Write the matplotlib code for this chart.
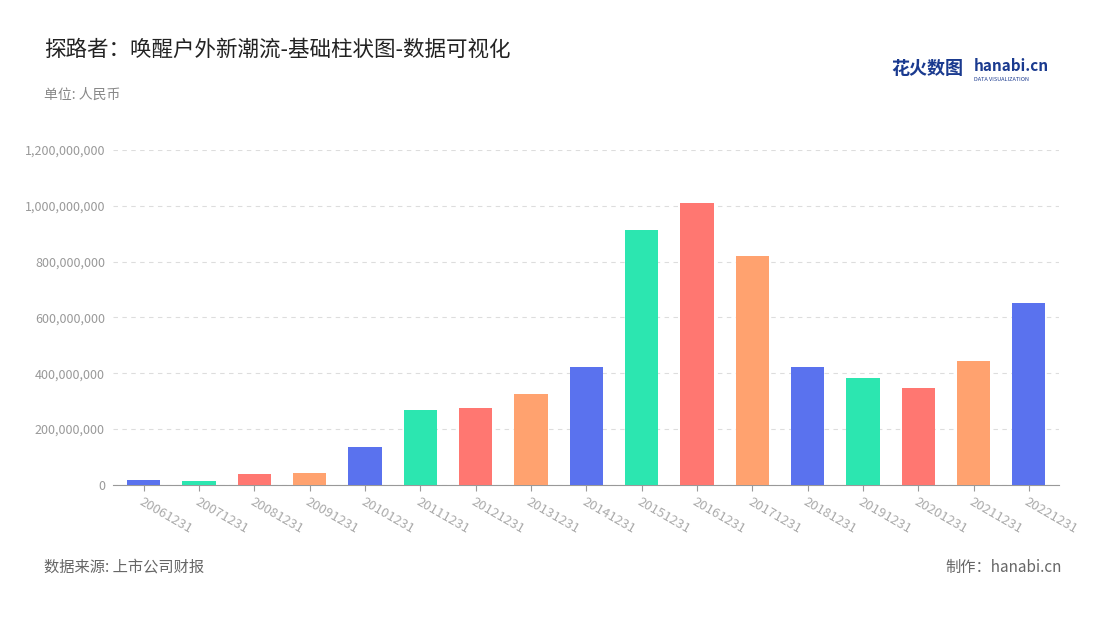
import matplotlib
matplotlib.use("Agg")
import matplotlib.pyplot as plt
from matplotlib.ticker import FuncFormatter

plt.rcParams['font.family'] = ['Noto Sans CJK SC', 'DejaVu Sans']

years = ["20061231","20071231","20081231","20091231","20101231","20111231","20121231",
         "20131231","20141231","20151231","20161231","20171231","20181231","20191231",
         "20201231","20211231","20221231"]
values = [18e6, 15e6, 38e6, 42e6, 136e6, 268e6, 275e6, 326e6, 423e6, 915e6, 1011e6,
          820e6, 423e6, 383e6, 348e6, 444e6, 652e6]
palette = ["#5a72ee", "#2ce6b0", "#ff7771", "#ffa26f"]

fig = plt.figure(figsize=(11, 6.2), dpi=100)
ax = fig.add_axes([0.103, 0.218, 0.86, 0.54])
x = range(len(years))
ax.bar(x, values, width=0.6, color=[palette[i % 4] for i in x], zorder=3)
ax.set_xlim(-0.55, len(years) - 0.45)
ax.set_ylim(0, 1.2e9)
ax.set_yticks([i * 2e8 for i in range(7)])
ax.yaxis.set_major_formatter(FuncFormatter(lambda v, p: f"{int(v):,}"))
ax.grid(axis='y', linestyle=(0, (4, 4)), color='#dddddd', zorder=0)
for s in ['top', 'right', 'left']:
    ax.spines[s].set_visible(False)
ax.spines['bottom'].set_color('#999999')
ax.tick_params(axis='y', length=0, labelsize=9, labelcolor='#999999', pad=6)
ax.tick_params(axis='x', length=4, color='#999999', labelsize=9.5, labelcolor='#aaaaaa')
ax.set_xticks(list(x))
ax.set_xticklabels(years, rotation=-30, ha='left', rotation_mode='anchor')

fig.text(0.04, 0.91, "探路者：唤醒户外新潮流-基础柱状图-数据可视化", fontsize=15.5, color='#222222')
fig.text(0.04, 0.84, "单位: 人民币", fontsize=10, color='#888888')
fig.text(0.04, 0.078, "数据来源: 上市公司财报", fontsize=11, color='#666666')
fig.text(0.965, 0.078, "制作：hanabi.cn", fontsize=11, color='#666666', ha='right')
fig.text(0.81, 0.88, "花火数图", fontsize=13, color='#1a3a8f', fontweight='bold')
fig.text(0.885, 0.885, "hanabi.cn", fontsize=11, color='#1a3a8f', fontweight='bold')
fig.text(0.885, 0.87, "DATA VISUALIZATION", fontsize=4, color='#1a3a8f')

fig.savefig("out.png", dpi=100)
